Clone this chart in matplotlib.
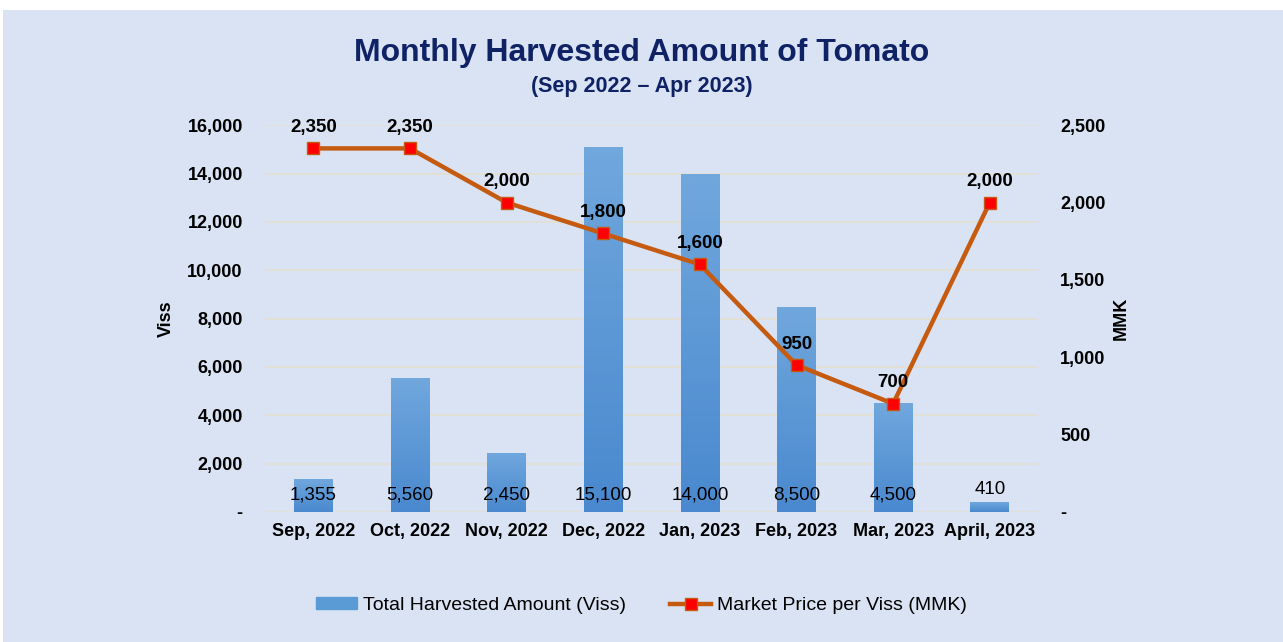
import matplotlib.pyplot as plt
from matplotlib import font_manager
from matplotlib.colors import LinearSegmentedColormap
import numpy as np

months = ['Sep, 2022', 'Oct, 2022', 'Nov, 2022', 'Dec, 2022',
          'Jan, 2023', 'Feb, 2023', 'Mar, 2023', 'April, 2023']
harvest = [1355, 5560, 2450, 15100, 14000, 8500, 4500, 410]
price = [2350, 2350, 2000, 1800, 1600, 950, 700, 2000]

names = {f.name for f in font_manager.fontManager.ttflist}
fam = [f for f in ['Liberation Sans Narrow', 'Liberation Sans', 'DejaVu Sans'] if f in names]
plt.rcParams['font.family'] = fam

bg = '#dae3f3'
fig = plt.figure(figsize=(12.83, 6.42), dpi=100)
fig.patch.set_facecolor('white')
# light blue panel
fig.patches.append(plt.Rectangle((0.002, 0), 0.998, 0.985, transform=fig.transFigure,
                                 facecolor=bg, edgecolor='none', zorder=-10))

ax = fig.add_axes([0.2066, 0.2025, 0.6025, 0.6025])
ax.set_facecolor('none')
x = np.arange(len(months))
bars = ax.bar(x, harvest, width=0.4, color='none', zorder=2)

# gradient fill for the bars (lighter at top)
grad = LinearSegmentedColormap.from_list('g', ['#4a89cf', '#70a7dd'])
for b in bars:
    bx, by = b.get_x(), b.get_y()
    bw, bh = b.get_width(), b.get_height()
    im = ax.imshow(np.linspace(0, 1, 64).reshape(-1, 1), cmap=grad, origin='lower',
                   extent=[bx, bx + bw, by, by + bh], aspect='auto', zorder=2)
    im.set_clip_path(b)
ax.set_xlim(-0.5, len(months) - 0.5)
ax.set_ylim(0, 16000)

ax.set_yticks(np.arange(0, 16001, 2000))
ax.set_yticklabels(['-'] + [f'{v:,}' for v in range(2000, 16001, 2000)])
ax.grid(axis='y', color='#e4dfd2', linewidth=1.2, zorder=0)
ax.set_axisbelow(True)
for s in ax.spines.values():
    s.set_visible(False)
ax.tick_params(length=0, labelsize=13, pad=8)
ax.tick_params(axis='y', pad=16)
for t in ax.get_yticklabels() + ax.get_xticklabels():
    t.set_fontweight('bold')
ax.set_xticks(x)
ax.set_xticklabels(months)
ax.set_ylabel('Viss', fontsize=13, fontweight='bold', labelpad=9)

# bar value labels (inside base, above the bar when it is too short)
for xi, v in zip(x, harvest):
    if v < 900:
        ax.annotate(f'{v:,}', (xi, v), xytext=(0, 3), textcoords='offset points',
                    ha='center', va='bottom', fontsize=13.5)
    else:
        ax.annotate(f'{v:,}', (xi, 0), xytext=(0, 6), textcoords='offset points',
                    ha='center', va='bottom', fontsize=13.5)

ax2 = ax.twinx()
ax2.set_ylim(0, 2500)
ax2.set_yticks(np.arange(0, 2501, 500))
ax2.set_yticklabels(['-'] + [f'{v:,}' for v in range(500, 2501, 500)])
for s in ax2.spines.values():
    s.set_visible(False)
ax2.tick_params(length=0, labelsize=13, pad=16)
for t in ax2.get_yticklabels():
    t.set_fontweight('bold')
ax2.set_ylabel('MMK', fontsize=13, fontweight='bold', labelpad=5)
ax2.plot(x, price, color='#c55a11', linewidth=3.2, marker='s', markersize=8,
         markerfacecolor='#ff0000', markeredgecolor='#c55a11', markeredgewidth=1, zorder=3)
for xi, v in zip(x, price):
    ax2.annotate(f'{v:,}', (xi, v), xytext=(0, 9), textcoords='offset points',
                 ha='center', va='bottom', fontsize=13.5, fontweight='bold')

fig.text(0.5, 0.918, 'Monthly Harvested Amount of Tomato', ha='center', va='center',
         fontsize=23, fontweight='bold', color='#0e2265')
fig.text(0.5, 0.866, '(Sep 2022 \u2013 Apr 2023)', ha='center', va='center',
         fontsize=15.5, fontweight='bold', color='#0e2265')

h1 = plt.Rectangle((0, 0), 1, 1, color='#5b9bd5')
h2, = ax2.plot([], [], color='#c55a11', linewidth=3.2, marker='s', markersize=8,
               markerfacecolor='#ff0000', markeredgecolor='#c55a11')
leg = fig.legend([h1, h2], ['Total Harvested Amount (Viss)', 'Market Price per Viss (MMK)'],
                 loc='center', bbox_to_anchor=(0.5, 0.057), ncol=2, frameon=False,
                 fontsize=14, handlelength=2.1, handleheight=0.5, columnspacing=2.3,
                 handletextpad=0.3)

fig.savefig('out.png', dpi=100, facecolor=fig.get_facecolor())
